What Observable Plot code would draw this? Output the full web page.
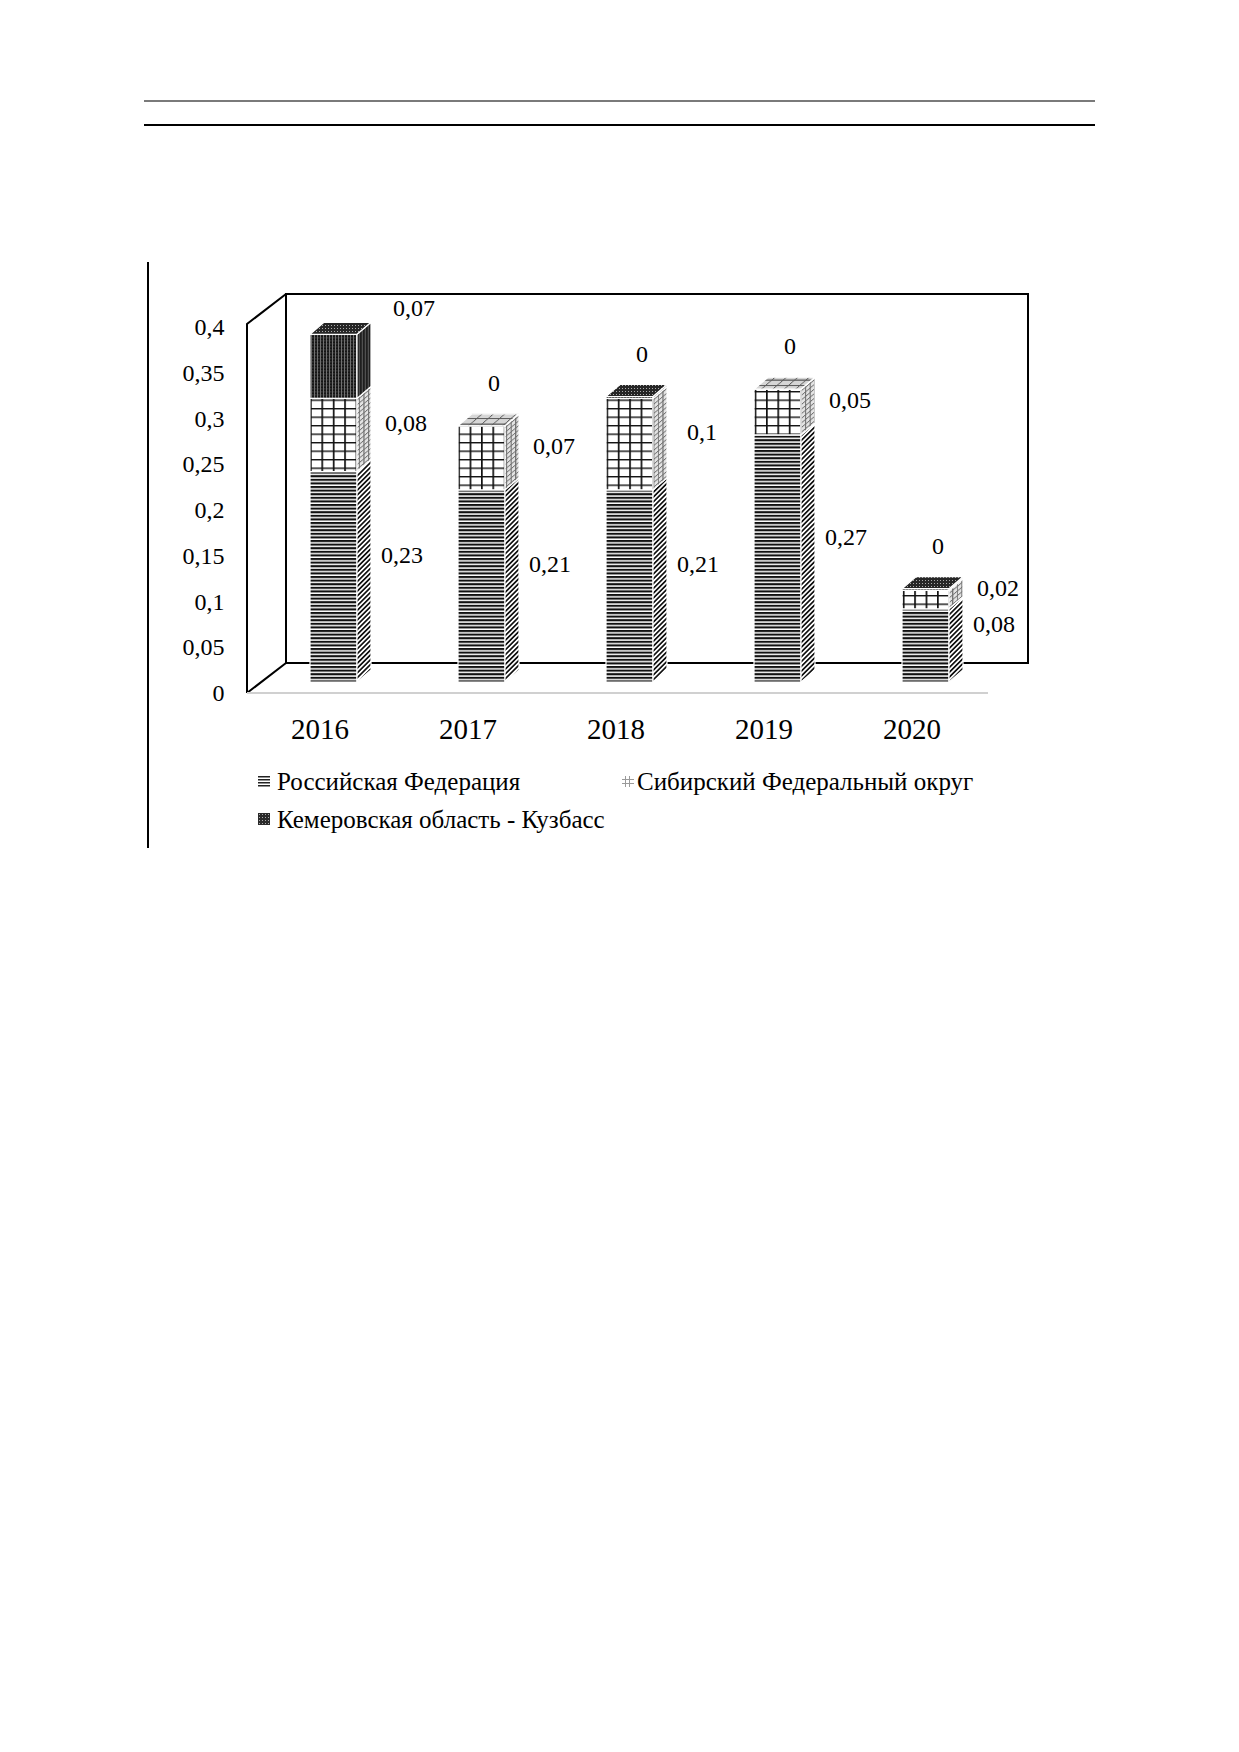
<!DOCTYPE html>
<html><head><meta charset="utf-8">
<script src="https://cdn.jsdelivr.net/npm/d3@7"></script>
<script src="https://cdn.jsdelivr.net/npm/@observablehq/plot@0.6"></script>
<style>
html,body{margin:0;padding:0;background:#fff;}
#page{position:relative;width:1239px;height:1752px;overflow:hidden;font-family:"Liberation Serif","Times New Roman",serif;color:#000;background:#fff;}
#chart{position:absolute;left:0;top:0;}
.abs{position:absolute;}
.legtext{position:absolute;font-size:25px;line-height:25px;white-space:nowrap;}
</style></head>
<body><div id="page">
<div id="chart"></div>
<div class="abs" style="left:144px;top:100px;width:951px;height:2px;background:#7a7a7a"></div>
<div class="abs" style="left:144px;top:124px;width:951px;height:2px;background:#000"></div>
<div class="abs" style="left:147px;top:262px;width:2px;height:586px;background:#000"></div>
<div id="legend"></div>
</div>
<script>
// ---------- data ----------
const years = ["2016", "2017", "2018", "2019", "2020"];
const rfValues = [0.23, 0.21, 0.21, 0.27, 0.08];
const sfoValues = [0.08, 0.07, 0.10, 0.05, 0.02];
const kemValues = [0.07, 0, 0.002, 0, 0.002];
const seriesNames = ["Российская Федерация", "Сибирский Федеральный округ", "Кемеровская область - Кузбасс"];
const yTicks = [0, 0.05, 0.1, 0.15, 0.2, 0.25, 0.3, 0.35, 0.4];

const fmt = v => d3.format(".2~f")(v).replace(".", ",");

// stacked table built from the arrays
const segments = [];
const tops = [];
years.forEach((year, i) => {
  let base = 0, topK = 0;
  [rfValues, sfoValues, kemValues].forEach((vals, k) => {
    const v = vals[i];
    segments.push({year, k, value: v, y1: base, y2: base + v, mid: base + v / 2, top: base + v});
    base += v;
    if (v > 0) topK = k;
  });
  tops.push({year, k: topK, y1: base, y2: base});
});

// ---------- geometry (pixels) ----------
const W = 1239, H = 760;
const FX = 14, FY = 11;   // bar front offset from front plane
const DX = 14, DY = 12;   // bar depth
const WX = 39, WY = 30;   // wall depth
const WALL_EXTRA = 3;     // walls rise slightly above the top tick

const fills = {
  front: ["url(#rfFront)", "url(#sfoFront)", "url(#kemFront)"],
  side: ["url(#rfSide)", "url(#sfoSide)", "url(#kemSide)"],
  top: ["url(#rfFront)", "url(#sfoTop)", "url(#kemTop)"]
};

function defsMark() {
  const defs = d3.create("svg:defs");
  function pat(id, w, h, opts = {}) {
    const p = defs.append("pattern").attr("id", id).attr("patternUnits", "userSpaceOnUse")
      .attr("width", w).attr("height", h);
    if (opts.x != null) p.attr("x", opts.x);
    if (opts.transform) p.attr("patternTransform", opts.transform);
    return p;
  }
  function r(p, x, y, w, h, fill, op) {
    const e = p.append("rect").attr("x", x).attr("y", y).attr("width", w).attr("height", h).attr("fill", fill);
    if (op != null) e.attr("opacity", op);
  }
  let p;
  p = pat("rfFront", 6, 3.6); r(p, 0, 0, 6, 3.6, "#fff"); r(p, 0, 0, 6, 2.1, "#111");
  p = pat("rfSide", 3.4, 3.4, {transform: "rotate(45)"}); r(p, 0, 0, 3.4, 3.4, "#fff"); r(p, 0, 0, 1.7, 3.4, "#111");
  p = pat("sfoFront", 11.4, 8.5, {x: 2.2}); r(p, 0, 0, 11.4, 8.5, "#fff"); r(p, 0, 0, 1.7, 8.5, "#111"); r(p, 0, 0, 11.4, 1.4, "#111");
  p = pat("sfoSide", 4.6, 4.6, {transform: "skewY(-40)"}); r(p, 0, 0, 4.6, 4.6, "#e4e4e4"); r(p, 0, 0, 1.1, 4.6, "#707070"); r(p, 0, 0, 4.6, 1.1, "#707070");
  p = pat("sfoTop", 11.4, 5.5, {transform: "skewX(-49)"}); r(p, 0, 0, 11.4, 5.5, "#d6d6d6"); r(p, 0, 0, 1.2, 5.5, "#5e5e5e"); r(p, 0, 0, 11.4, 1.2, "#5e5e5e");
  p = pat("kemFront", 3, 3); r(p, 0, 0, 3, 3, "#151515"); r(p, 2, 0, 0.9, 3, "#bdbdbd", 0.6); r(p, 0.5, 1.5, 0.8, 0.8, "#888");
  p = pat("kemSide", 3, 3, {transform: "skewY(-40)"}); r(p, 0, 0, 3, 3, "#1e1e1e"); r(p, 2, 0, 0.8, 3, "#999", 0.6);
  p = pat("kemTop", 3, 3); r(p, 0, 0, 3, 3, "#262626"); r(p, 1, 1, 1, 1, "#aaa");
  return defs.node();
}

function walls(index, scales, values, dims) {
  const x0 = dims.marginLeft, x1 = dims.width - dims.marginRight;
  const yb = scales.y(0), yt = scales.y(yTicks[yTicks.length - 1]) - WALL_EXTRA;
  const g = d3.create("svg:g").attr("fill", "none").attr("stroke", "#000").attr("stroke-width", 2);
  g.append("rect").attr("x", x0 + WX).attr("y", yt - WY).attr("width", x1 - x0).attr("height", yb - yt);
  g.append("path").attr("d", `M${x0},${yb}L${x0},${yt}L${x0 + WX},${yt - WY}M${x0},${yb}L${x0 + WX},${yb - WY}`);
  g.append("line").attr("x1", x0).attr("x2", x1 - 1).attr("y1", yb).attr("y2", yb).attr("stroke", "#d0d0d0");
  return g.node();
}

function face(data, kind, k) {
  const fill = fills[kind][k];
  return Plot.barY(data, {
    x: "year", y1: "y1", y2: "y2", fill,
    render(index, scales, values) {
      const sx = scales.x;
      let bw = typeof sx.bandwidth === "function" ? sx.bandwidth() : sx.bandwidth;
      if (bw == null && scales.scales && scales.scales.x) bw = scales.scales.x.bandwidth;
      const g = d3.create("svg:g");
      for (const i of index) {
        const x0 = values.x[i] + FX, x1 = x0 + bw;
        const yb = Math.max(values.y1[i], values.y2[i]) - FY;
        const yt = Math.min(values.y1[i], values.y2[i]) - FY;
        let pts;
        if (kind === "front") pts = [[x0, yb], [x0, yt], [x1, yt], [x1, yb]];
        else if (kind === "side") pts = [[x1, yb], [x1 + DX, yb - DY], [x1 + DX, yt - DY], [x1, yt]];
        else pts = [[x0, yt], [x0 + DX, yt - DY], [x1 + DX, yt - DY], [x1, yt]];
        g.append("path").attr("d", "M" + pts.map(p => p.join(",")).join("L") + "Z")
          .attr("fill", fill).attr("stroke", "#fff").attr("stroke-width", 1.2).attr("stroke-linejoin", "round");
      }
      return g.node();
    }
  });
}

const marks = [defsMark, walls];
for (let k = 0; k < 3; k++) {
  const seg = segments.filter(d => d.k === k && d.value > 0);
  marks.push(face(seg, "front", k), face(seg, "side", k));
}
for (let k = 0; k < 3; k++) {
  const t = tops.filter(d => d.k === k);
  if (t.length) marks.push(face(t, "top", k));
}

marks.push(
  Plot.axisY({ticks: yTicks, tickSize: 0, tickPadding: 23, fontSize: 24, tickFormat: fmt, label: null}),
  Plot.axisX({tickSize: 0, tickPadding: 25, fontSize: 29, label: null}),
  Plot.text(segments.filter(d => d.k === 0), {x: "year", y: "mid", text: d => fmt(d.value), dx: 82, dy: -33, fontSize: 24}),
  Plot.text(segments.filter(d => d.k === 1), {x: "year", y: "mid", text: d => fmt(d.value), dx: 86, dy: -23, fontSize: 24}),
  Plot.text(segments.filter(d => d.k === 2 && d.value >= 0.01), {x: "year", y: "top", text: d => fmt(d.value), dx: 94, dy: -37, fontSize: 24}),
  Plot.text(segments.filter(d => d.k === 2 && d.value < 0.01), {x: "year", y: "top", text: d => fmt(d.value), dx: 26, dy: -54, fontSize: 24})
);

const chart = Plot.plot({
  width: W, height: H,
  marginLeft: 247, marginRight: 250, marginTop: 327, marginBottom: H - 693,
  x: {domain: years, paddingInner: 0.683, paddingOuter: 0.345, align: 0.48},
  y: {domain: [0, 0.4]},
  style: {fontFamily: "Liberation Serif, Times New Roman, serif", color: "#000", background: "#fff", overflow: "visible"},
  marks
});
document.getElementById("chart").appendChild(chart);

// ---------- legend ----------
const legend = d3.select("#legend");
const items = [
  {k: 0, iconX: 258, iconY: 775, textX: 277, textY: 769},
  {k: 1, iconX: 622, iconY: 775, textX: 637, textY: 769},
  {k: 2, iconX: 258, iconY: 813, textX: 277, textY: 807}
];
items.forEach(it => {
  const s = legend.append("svg").attr("class", "abs").attr("width", 12).attr("height", 12)
    .style("left", it.iconX + "px").style("top", it.iconY + "px");
  if (it.k === 0) {
    [1, 4, 7, 10].forEach(y => s.append("rect").attr("x", 0).attr("y", y).attr("width", 12).attr("height", 1.5).attr("fill", "#222"));
  } else if (it.k === 1) {
    [3, 7].forEach(x => s.append("rect").attr("x", x).attr("y", 1).attr("width", 1).attr("height", 11).attr("fill", "#9a9a9a"));
    [4, 8].forEach(y => s.append("rect").attr("x", 0).attr("y", y).attr("width", 12).attr("height", 1).attr("fill", "#9a9a9a"));
  } else {
    s.append("rect").attr("width", 12).attr("height", 12).attr("fill", "#2a2a2a");
    for (let x = 1; x < 12; x += 3) for (let y = 1; y < 12; y += 3)
      s.append("rect").attr("x", x).attr("y", y).attr("width", 1).attr("height", 1).attr("fill", "#aaa");
  }
  legend.append("div").attr("class", "legtext").style("left", it.textX + "px").style("top", it.textY + "px")
    .text(seriesNames[it.k]);
});
</script>
</body></html>
